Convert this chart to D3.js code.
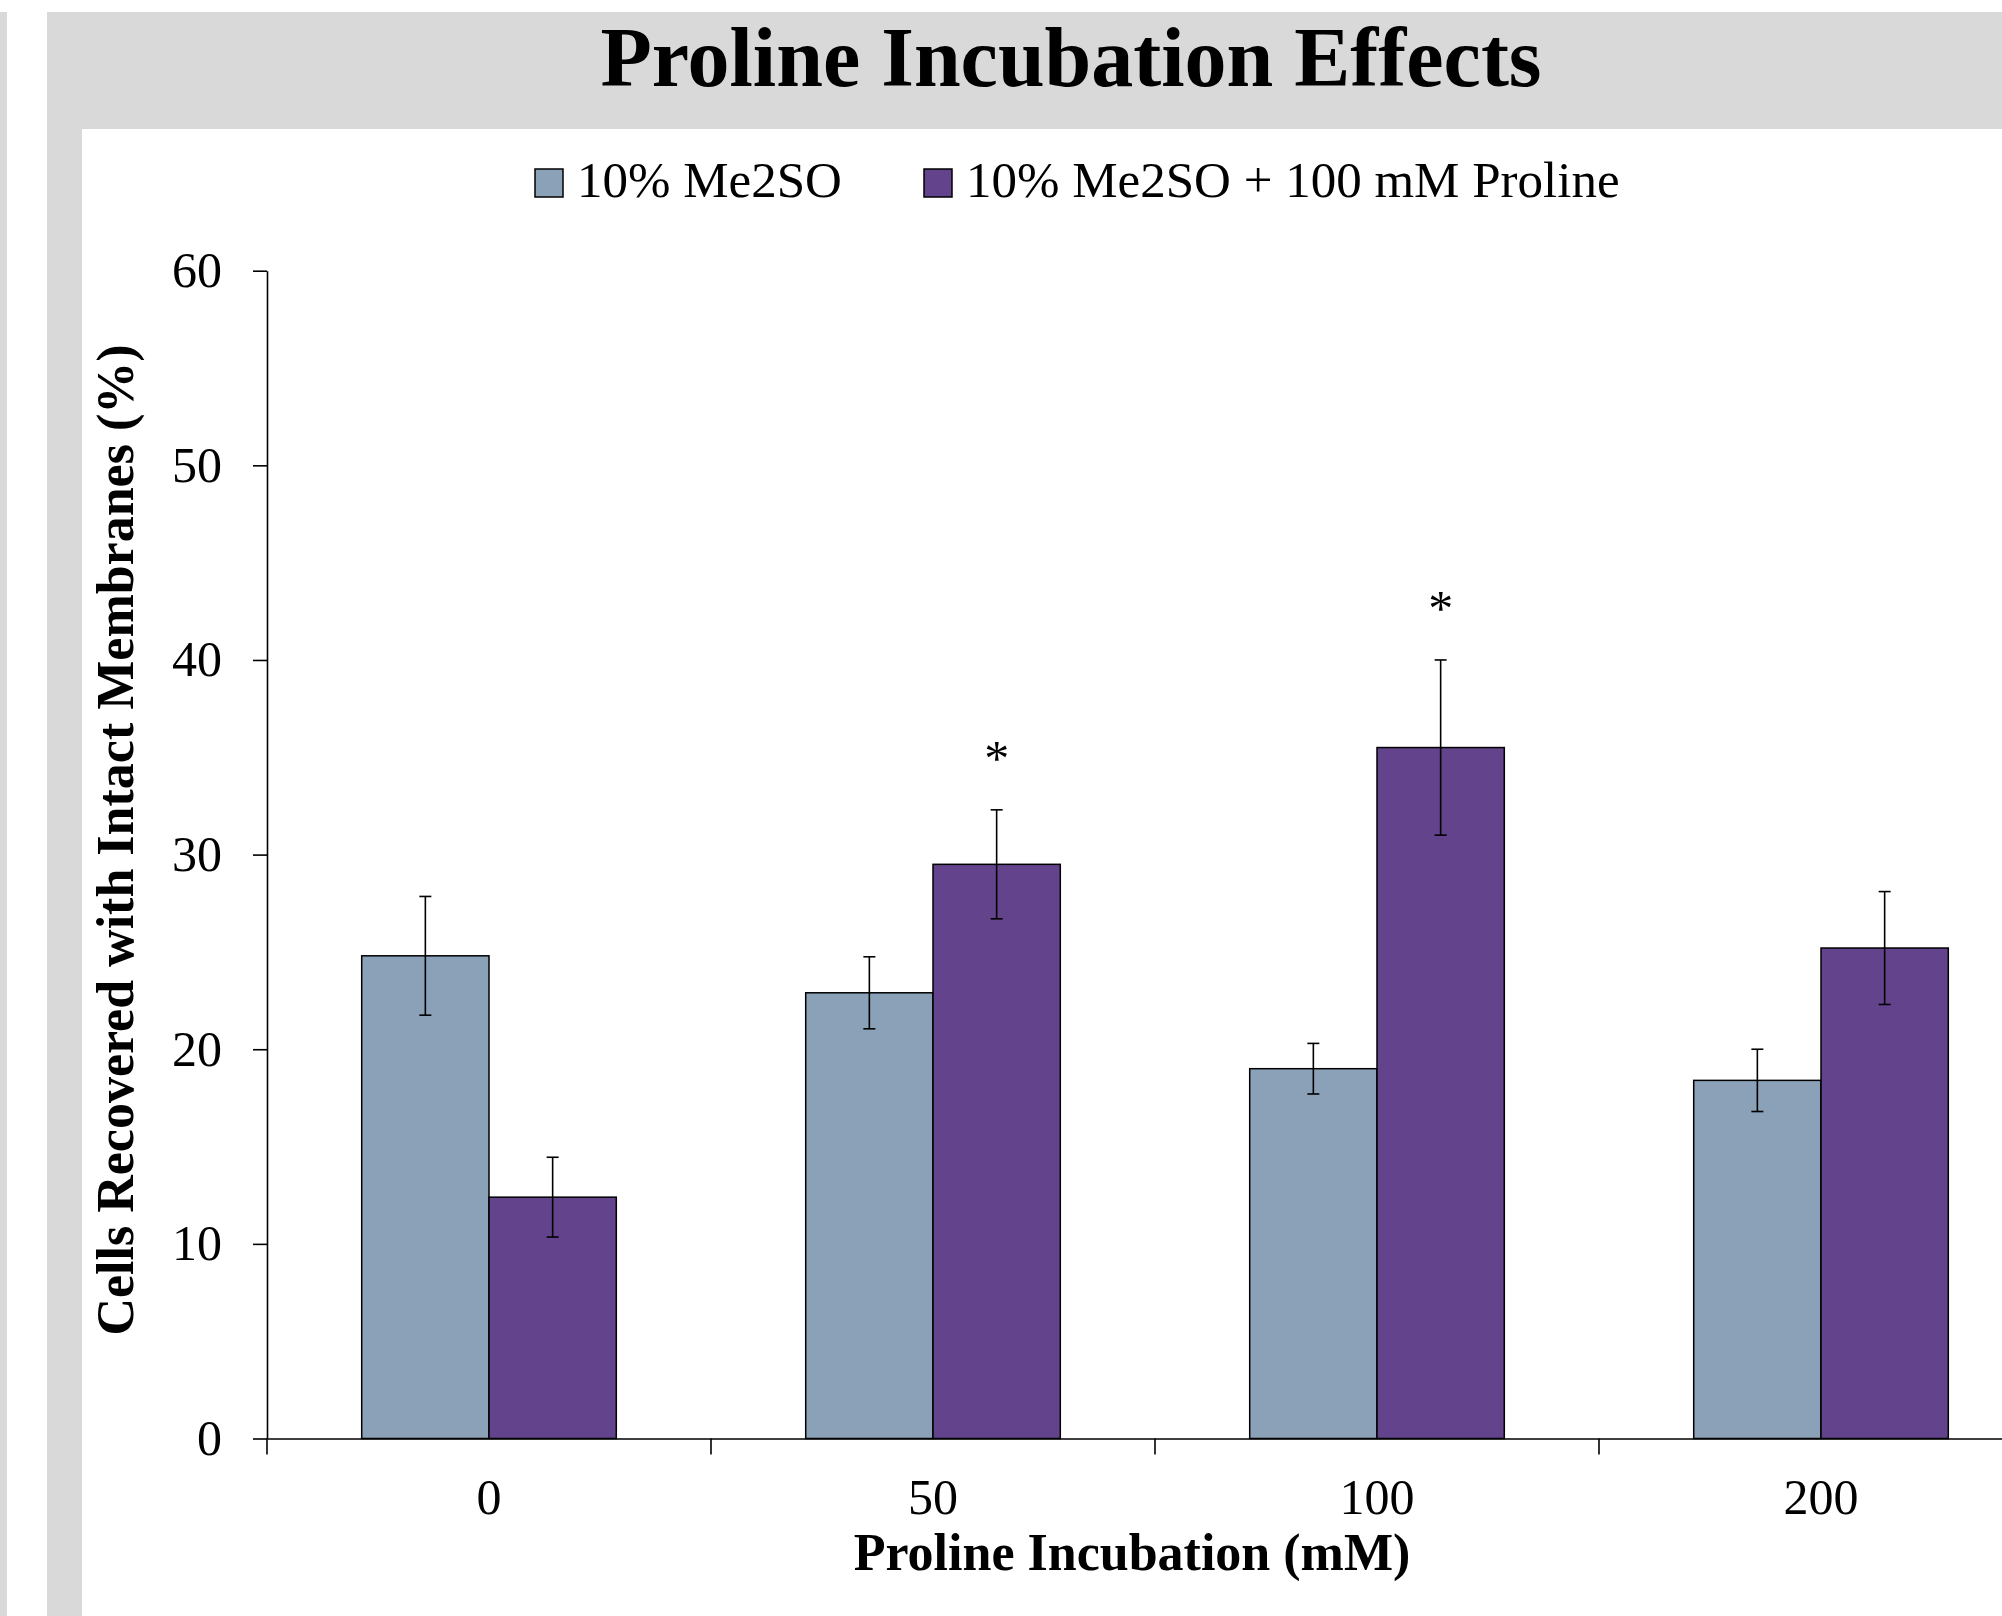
<!DOCTYPE html>
<html>
<head>
<meta charset="utf-8">
<script src="https://cdn.jsdelivr.net/npm/d3@7"></script>
<style>
  body { margin: 0; background: #fff; }
  svg { display: block; }
  text { font-family: "Liberation Serif", "Times New Roman", serif; fill: #000; }
</style>
</head>
<body>
<svg id="chart" width="2002" height="1616"></svg>
<script>
// data
let categories = ["0", "50", "100", "200"];
let seriesNames = ["10% Me2SO", "10% Me2SO + 100 mM Proline"];
let me2soValues = [24.8, 22.9, 19.0, 18.4];
let me2soErrors = [3.05, 1.85, 1.3, 1.6];
let prolineValues = [12.4, 29.5, 35.5, 25.2];
let prolineErrors = [2.05, 2.8, 4.5, 2.9];
let significant = [false, true, true, false];
let yTicks = [0, 10, 20, 30, 40, 50, 60];

let colors = ["#8aa1b8", "#63438c"];

let svg = d3.select("#chart");
let W = 2002;

// background frame
svg.append("rect").attr("x", 0).attr("y", 12).attr("width", 7).attr("height", 1616 - 12).attr("fill", "#d9d9d9");
svg.append("rect").attr("x", 47).attr("y", 12).attr("width", W - 47).attr("height", 117).attr("fill", "#d9d9d9");
svg.append("rect").attr("x", 47).attr("y", 12).attr("width", 35).attr("height", 1616 - 12).attr("fill", "#d9d9d9");

// title
svg.append("text").
attr("x", 1071).
attr("y", 86).
attr("text-anchor", "middle").
style("font-size", "84px").
style("font-weight", "bold").
text("Proline Incubation Effects");

// scales
let x = d3.scaleBand().
domain(categories).
range([267, 267 + 4 * 444]).
padding(0);

let x1 = d3.scaleBand().
domain(seriesNames).
range([0, x.bandwidth()]).
paddingInner(0).
paddingOuter(0.744);

let y = d3.scaleLinear().
domain([0, 60]).
range([1438.5, 270.7]);

// bars
let rows = categories.map((c, i) => ({
  cat: c,
  sig: significant[i],
  bars: [
  { name: seriesNames[0], value: me2soValues[i], err: me2soErrors[i] },
  { name: seriesNames[1], value: prolineValues[i], err: prolineErrors[i] }]

}));

let group = svg.append("g").
selectAll("g").
data(rows).
enter().
append("g").
attr("transform", d => `translate(${x(d.cat)},0)`);

group.selectAll("rect").
data(d => d.bars).
enter().
append("rect").
attr("x", d => x1(d.name)).
attr("y", d => y(d.value)).
attr("width", x1.bandwidth()).
attr("height", d => y(0) - y(d.value)).
attr("fill", (d, i) => colors[i]).
attr("stroke", "#000").
attr("stroke-width", 1.5);

// error bars
let err = group.selectAll("g.err").
data(d => d.bars).
enter().
append("g").
attr("class", "err").
attr("stroke", "#000").
attr("stroke-width", 1.6);

let cx = d => x1(d.name) + x1.bandwidth() / 2;
err.append("line").
attr("x1", cx).attr("x2", cx).
attr("y1", d => y(d.value + d.err)).
attr("y2", d => y(d.value - d.err));
err.append("line").
attr("x1", d => cx(d) - 6).attr("x2", d => cx(d) + 6).
attr("y1", d => y(d.value + d.err)).
attr("y2", d => y(d.value + d.err));
err.append("line").
attr("x1", d => cx(d) - 6).attr("x2", d => cx(d) + 6).
attr("y1", d => y(d.value - d.err)).
attr("y2", d => y(d.value - d.err));

// significance marks
group.filter(d => d.sig).
append("text").
attr("x", d => cx(d.bars[1])).
attr("y", d => y(d.bars[1].value + d.bars[1].err) - 35).
attr("text-anchor", "middle").
style("font-size", "50px").
text("*");

// y axis
let yAxis = svg.append("g").
attr("transform", "translate(267,0)").
call(d3.axisLeft(y).tickValues(yTicks).tickSize(14).tickPadding(31).tickSizeOuter(0));
yAxis.select(".domain").attr("stroke-width", 1.6);
yAxis.selectAll(".tick line").attr("stroke-width", 1.6);
yAxis.selectAll("text").
style("font-size", "50px").
style("font-family", "'Liberation Serif', serif");

// x axis
let xAxis = svg.append("g").
attr("transform", `translate(0,${y(0)})`).
call(d3.axisBottom(x).tickSize(0).tickPadding(40).tickSizeOuter(0));
xAxis.select(".domain").attr("stroke-width", 1.6);
xAxis.selectAll("text").
style("font-size", "50px").
style("font-family", "'Liberation Serif', serif");

// x tick marks between categories
xAxis.selectAll("line.edge").
data(categories.concat(["end"])).
enter().
append("line").
attr("class", "edge").
attr("x1", (d, i) => x.range()[0] + i * x.step()).
attr("x2", (d, i) => x.range()[0] + i * x.step()).
attr("y1", 0).
attr("y2", 16).
attr("stroke", "#000").
attr("stroke-width", 1.6);

// axis titles
svg.append("text").
attr("x", 1132).
attr("y", 1570).
attr("text-anchor", "middle").
style("font-size", "52px").
style("font-weight", "bold").
text("Proline Incubation (mM)");

svg.append("text").
attr("transform", "translate(133,840) rotate(-90)").
attr("text-anchor", "middle").
style("font-size", "52px").
style("font-weight", "bold").
text("Cells Recovered with Intact Membranes (%)");

// legend
let legend = svg.append("g").
selectAll("g").
data(seriesNames).
enter().
append("g").
attr("transform", (d, i) => `translate(${[535, 924][i]},169)`);

legend.append("rect").
attr("width", 28).
attr("height", 28).
attr("fill", (d, i) => colors[i]).
attr("stroke", "#000").
attr("stroke-width", 1.5);

legend.append("text").
attr("x", 42).
attr("y", 28).
style("font-size", "51px").
text(d => d);
</script>
</body>
</html>
